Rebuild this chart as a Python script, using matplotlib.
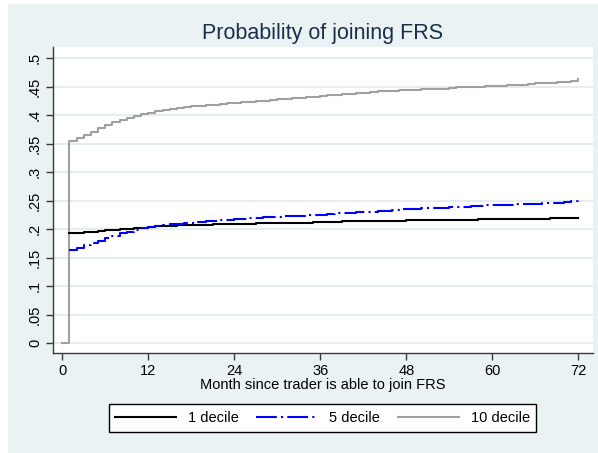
import matplotlib
matplotlib.use('Agg')
import matplotlib.pyplot as plt
from matplotlib.patches import Rectangle
import numpy as np

# Stata s2color-ish look
BG = '#EAF2F3'
GRIDC = '#E4EDEF'
TITLE = '#1C2E4A'
AXC = '#3A3A3A'

plt.rcParams.update({
    'font.family': ['Liberation Sans', 'DejaVu Sans'],
    'font.size': 10,
})

# ---- data ----
months_10 = list(range(0, 73))
months = list(range(1, 73))

dec10 = [0.000,
         0.355, 0.360, 0.365, 0.371, 0.377, 0.383, 0.388, 0.392, 0.396, 0.399, 0.402, 0.405,
         0.407, 0.409, 0.411, 0.413, 0.415, 0.416, 0.417, 0.418, 0.419, 0.420, 0.421, 0.422,
         0.423, 0.424, 0.425, 0.426, 0.427, 0.428, 0.429, 0.430, 0.431, 0.432, 0.433, 0.434,
         0.435, 0.436, 0.437, 0.438, 0.439, 0.440, 0.441, 0.442, 0.443, 0.443, 0.444, 0.444,
         0.445, 0.446, 0.446, 0.447, 0.447, 0.448, 0.449, 0.449, 0.450, 0.450, 0.451, 0.452,
         0.452, 0.453, 0.454, 0.454, 0.455, 0.456, 0.456, 0.457, 0.458, 0.459, 0.461, 0.463]

dec1 = [0.193, 0.194, 0.195, 0.196, 0.197, 0.198, 0.199, 0.200, 0.201, 0.202, 0.203, 0.204,
        0.205, 0.205, 0.206, 0.207, 0.207, 0.208, 0.208, 0.208, 0.209, 0.209, 0.209, 0.210,
        0.210, 0.210, 0.211, 0.211, 0.211, 0.211, 0.212, 0.212, 0.212, 0.212, 0.213, 0.213,
        0.213, 0.213, 0.214, 0.214, 0.214, 0.214, 0.214, 0.215, 0.215, 0.215, 0.215, 0.216,
        0.216, 0.216, 0.216, 0.216, 0.217, 0.217, 0.217, 0.217, 0.217, 0.218, 0.218, 0.218,
        0.218, 0.218, 0.219, 0.219, 0.219, 0.219, 0.219, 0.220, 0.220, 0.220, 0.220, 0.220]

dec5 = [0.164, 0.167, 0.172, 0.176, 0.180, 0.185, 0.189, 0.193, 0.196, 0.199, 0.202, 0.204,
        0.206, 0.207, 0.209, 0.210, 0.211, 0.212, 0.213, 0.214, 0.215, 0.216, 0.217, 0.218,
        0.219, 0.220, 0.220, 0.221, 0.222, 0.222, 0.223, 0.224, 0.224, 0.225, 0.226, 0.226,
        0.227, 0.228, 0.228, 0.229, 0.230, 0.231, 0.231, 0.232, 0.233, 0.234, 0.235, 0.235,
        0.236, 0.237, 0.237, 0.238, 0.238, 0.239, 0.240, 0.240, 0.241, 0.241, 0.242, 0.242,
        0.243, 0.243, 0.244, 0.244, 0.245, 0.245, 0.246, 0.246, 0.247, 0.248, 0.250, 0.252]

xticks = [0, 12, 24, 36, 48, 60, 72]
yticks = [0, 0.05, 0.1, 0.15, 0.2, 0.25, 0.3, 0.35, 0.4, 0.45, 0.5]
ytick_labels = ['0', '.05', '.1', '.15', '.2', '.25', '.3', '.35', '.4', '.45', '.5']

W, H = 598, 453
fig = plt.figure(figsize=(W / 100, H / 100), dpi=100)
fig.patch.set_facecolor('white')
fig.patches.append(Rectangle((8 / W, 0), 1 - 8 / W, 449 / H, transform=fig.transFigure,
                             facecolor=BG, edgecolor='none', zorder=-10))

ax = fig.add_axes([53 / W, (H - 353) / H, (593 - 53) / W, (353 - 47) / H])
ax.set_zorder(1)
ax.set_facecolor('white')

ax.plot(months, dec1, color='black', lw=1.5, drawstyle='steps-post', label='1 decile', zorder=4)
ax.plot(months, dec5, color='#0000FF', lw=1.5, drawstyle='steps-post', label='5 decile',
        dashes=(10, 2, 1, 2), zorder=5)
ax.plot(months_10, dec10, color='#A0A0A0', lw=1.5, drawstyle='steps-post', label='10 decile', zorder=3)

ax.set_xlim(-1.3, 74.05)
ax.set_ylim(-0.017, 0.52)
ax.set_xticks(xticks)
ax.set_yticks(yticks)
ax.set_yticklabels(ytick_labels, rotation=90, va='center')

for y in yticks:
    ax.axhline(y, color=GRIDC, lw=1.4, zorder=1)

for s in ['top', 'right']:
    ax.spines[s].set_visible(False)
for s in ['left', 'bottom']:
    ax.spines[s].set_color(AXC)
    ax.spines[s].set_linewidth(1.0)
ax.tick_params(axis='both', colors=AXC, length=5, width=1.0, labelcolor='black', labelsize=10.5)
ax.tick_params(axis='x', pad=3)
ax.tick_params(axis='y', pad=3)

ax.set_xlabel('Month since trader is able to join FRS', fontsize=10.5, labelpad=0)

fig.text(323 / W, (H - 33) / H, 'Probability of joining FRS', ha='center', va='center',
         fontsize=15.5, color=TITLE)

leg = fig.legend(loc='center', bbox_to_anchor=(322.5 / W, 35 / H), ncol=3, fontsize=10.5,
                 handlelength=4.2, handletextpad=0.8, columnspacing=1.2,
                 frameon=True, fancybox=False, framealpha=1, borderpad=0.45)
leg.get_frame().set_edgecolor('black')
leg.get_frame().set_linewidth(1.0)

fig.savefig('out.png', dpi=100, facecolor='white')
